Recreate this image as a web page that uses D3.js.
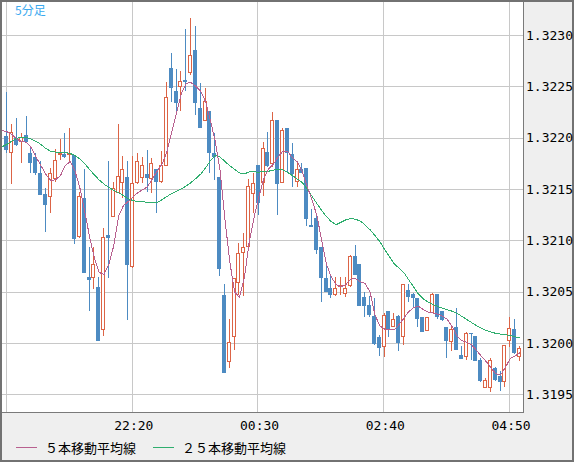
<!DOCTYPE html>
<html>
<head>
<meta charset="utf-8">
<script src="https://cdn.jsdelivr.net/npm/d3@7"></script>
<style>
	body { margin: 0; background: #ffffff; }
	svg { display: block; }
</style>
</head>
<body>
<svg id="chart" width="574" height="462"></svg>
<script>
// 5 minute bars, first bar at 20:10
var firstBar = "20:10";
var barMinutes = 5;

var openP = [1.322016,1.321851,1.321997,1.321958,1.322026,1.321851,1.321812,1.321656,1.321451,1.321422,
	1.321598,1.321831,1.321841,1.321831,1.321831,1.321033,1.321413,1.320643,1.320633,1.320546,
	1.320127,1.321052,1.321227,1.321461,1.321559,1.321617,1.320740,1.321559,1.321607,1.321646,
	1.321598,1.321695,1.321568,1.321724,1.322679,1.322455,1.322494,1.322562,1.322630,1.322854,
	1.322289,1.322162,1.322260,1.321851,1.321617,1.320468,1.319815,1.320059,1.320585,1.320877,
	1.320935,1.321451,1.321734,1.321559,1.321860,1.321744,1.322172,1.321559,1.322094,1.321841,
	1.321568,1.321695,1.321705,1.321150,1.321218,1.320935,1.320633,1.320536,1.320468,1.320546,
	1.320477,1.320555,1.320848,1.320770,1.320448,1.320370,1.320263,1.320059,1.319961,1.320312,
	1.320156,1.320263,1.320059,1.320516,1.320477,1.320439,1.320253,1.320117,1.320292,1.320477,
	1.320312,1.320156,1.320010,1.320156,1.319883,1.319864,1.320098,1.320068,1.319835,1.319562,
	1.319562,1.319757,1.319679,1.319620,1.320020,1.320137,1.319864];
var highP = [1.322445,1.322133,1.322192,1.322046,1.322211,1.321900,1.321851,1.321773,1.321510,1.321705,
	1.321890,1.321987,1.322046,1.322094,1.321831,1.321471,1.321695,1.320935,1.320935,1.320643,
	1.321120,1.321773,1.321568,1.322133,1.321822,1.321773,1.321822,1.321851,1.321812,1.321880,
	1.321802,1.321695,1.321870,1.322542,1.322825,1.322669,1.322650,1.323059,1.323166,1.323088,
	1.322533,1.322484,1.322260,1.322046,1.321617,1.320575,1.320234,1.320633,1.320974,1.321072,
	1.321598,1.321656,1.321734,1.321958,1.322055,1.322250,1.322172,1.322094,1.322094,1.321948,
	1.321763,1.321753,1.321705,1.321305,1.321257,1.320935,1.320750,1.320653,1.320643,1.320643,
	1.320643,1.320857,1.320955,1.320770,1.320497,1.320458,1.320439,1.320078,1.320292,1.320312,
	1.320292,1.320273,1.320575,1.320575,1.320487,1.320439,1.320253,1.320253,1.320487,1.320477,
	1.320312,1.320156,1.320166,1.320341,1.319971,1.320107,1.320098,1.320068,1.319854,1.319659,
	1.319854,1.319766,1.319727,1.319981,1.320253,1.320234,1.319971];
var lowP = [1.321851,1.321549,1.321919,1.321753,1.321948,1.321656,1.321637,1.321442,1.321081,1.321266,
	1.321568,1.321783,1.321802,1.321763,1.320964,1.321023,1.320682,1.320312,1.320526,1.320020,
	1.320068,1.320633,1.321227,1.321461,1.321413,1.320224,1.320731,1.321549,1.321559,1.321471,
	1.321461,1.321266,1.321559,1.321724,1.322348,1.322240,1.322260,1.322455,1.322611,1.322221,
	1.322094,1.322162,1.321656,1.321588,1.320653,1.319708,1.319757,1.319932,1.320468,1.320458,
	1.320906,1.321266,1.321247,1.321432,1.321714,1.321714,1.321247,1.321559,1.321666,1.321520,
	1.321520,1.321656,1.321140,1.321130,1.320867,1.320400,1.320497,1.320439,1.320458,1.320468,
	1.320448,1.320546,1.320663,1.320361,1.320253,1.320253,1.319981,1.319874,1.319864,1.320059,
	1.320156,1.319922,1.319981,1.320400,1.320341,1.320156,1.320107,1.320117,1.320292,1.320234,
	1.320214,1.319854,1.319922,1.319932,1.319844,1.319835,1.319835,1.319825,1.319620,1.319562,
	1.319523,1.319630,1.319533,1.319572,1.319961,1.319893,1.319825];
var closeP = [1.321880,1.322055,1.321929,1.322007,1.321958,1.321753,1.321656,1.321442,1.321344,1.321656,
	1.321783,1.321851,1.321812,1.321851,1.321013,1.321432,1.320682,1.320614,1.320770,1.320020,
	1.321033,1.321023,1.321510,1.321627,1.321695,1.320760,1.321559,1.321773,1.321734,1.321607,
	1.321753,1.321568,1.321734,1.322396,1.322484,1.322338,1.322552,1.322542,1.322805,1.322338,
	1.322094,1.322357,1.321851,1.321812,1.320721,1.319708,1.320010,1.320633,1.320877,1.320935,
	1.321529,1.321559,1.321364,1.321900,1.321724,1.322172,1.321549,1.322075,1.321851,1.321646,
	1.321695,1.321656,1.321208,1.321130,1.320906,1.320633,1.320497,1.320468,1.320536,1.320565,
	1.320536,1.320848,1.320663,1.320361,1.320361,1.320273,1.319990,1.319952,1.320273,1.320137,
	1.320234,1.320000,1.320575,1.320448,1.320439,1.320234,1.320107,1.320253,1.320477,1.320253,
	1.320224,1.320020,1.320137,1.319932,1.319844,1.320098,1.320088,1.319825,1.319630,1.319640,
	1.319835,1.319640,1.319620,1.319981,1.320146,1.319903,1.319952];

// moving averages as drawn, starting one bar before the first visible bar (20:05)
var ma5 = [1.322069,1.322056,1.322029,1.321985,1.321961,1.321955,1.321899,1.321807,1.321725,1.321642,
	1.321582,1.321590,1.321632,1.321727,1.321769,1.321675,1.321512,1.321286,1.321037,1.320828,
	1.320687,1.320668,1.320768,1.320945,1.321234,1.321338,1.321378,1.321422,1.321466,1.321493,
	1.321522,1.321600,1.321675,1.321743,1.321861,1.322055,1.322245,1.322431,1.322529,1.322536,
	1.322501,1.322451,1.322349,1.322165,1.321964,1.321675,1.321201,1.320792,1.320494,1.320446,
	1.320631,1.320978,1.321218,1.321423,1.321596,1.321693,1.321740,1.321813,1.321870,1.321863,
	1.321804,1.321761,1.321669,1.321524,1.321396,1.321242,1.321002,1.320765,1.320640,1.320568,
	1.320549,1.320569,1.320622,1.320628,1.320596,1.320579,1.320495,1.320277,1.320166,1.320136,
	1.320127,1.320127,1.320180,1.320242,1.320306,1.320343,1.320359,1.320325,1.320301,1.320293,
	1.320280,1.320261,1.320229,1.320156,1.320067,1.320023,1.320007,1.319982,1.319929,1.319871,
	1.319820,1.319757,1.319700,1.319690,1.319764,1.319852,1.319874,1.319906];
var ma25 = [1.321914,1.321936,1.321968,1.321995,1.322004,1.322000,1.321985,1.321963,1.321932,1.321893,
	1.321867,1.321859,1.321855,1.321854,1.321847,1.321825,1.321792,1.321747,1.321690,1.321637,
	1.321588,1.321547,1.321514,1.321488,1.321464,1.321436,1.321405,1.321387,1.321378,1.321375,
	1.321370,1.321367,1.321369,1.321395,1.321427,1.321456,1.321477,1.321500,1.321531,1.321563,
	1.321603,1.321646,1.321707,1.321776,1.321828,1.321812,1.321767,1.321727,1.321692,1.321656,
	1.321646,1.321666,1.321666,1.321664,1.321669,1.321673,1.321683,1.321691,1.321685,1.321659,
	1.321629,1.321596,1.321563,1.321498,1.321429,1.321358,1.321292,1.321230,1.321181,1.321152,
	1.321176,1.321200,1.321213,1.321205,1.321188,1.321148,1.321103,1.321048,1.320988,1.320912,
	1.320842,1.320771,1.320728,1.320686,1.320614,1.320548,1.320476,1.320429,1.320399,1.320375,
	1.320356,1.320339,1.320324,1.320309,1.320289,1.320259,1.320229,1.320199,1.320170,1.320144,
	1.320123,1.320106,1.320094,1.320086,1.320080,1.320071,1.320060,1.320049];

var yTicks = [1.3195, 1.3200, 1.3205, 1.3210, 1.3215, 1.3220, 1.3225, 1.3230];
var gridTimes = ["20:10", "22:20", "00:30", "02:40", "04:50"];
var timeLabels = ["22:20", "00:30", "02:40", "04:50"];
var legendNames = ["５本移動平均線", "２５本移動平均線"];
var legendColors = ["#b8608f", "#2fae6e"];
var periodName = "5分足";

var upColor = "#dc6446", downColor = "#4d8bc2";

// turn "HH:MM" into a date, hours before 20 fall on the next day
function toDate(s) {
	var h = +s.slice(0, 2), m = +s.slice(3, 5);
	return new Date(2014, 0, h < 20 ? 2 : 1, h, m);
}
function barDate(i) {
	return d3.timeMinute.offset(toDate(firstBar), i * barMinutes);
}

var bars = closeP.map(function(c, i) {
	return { t: barDate(i), o: openP[i], h: highP[i], l: lowP[i], c: c };
});

var plot = { left: 2, top: 2, right: 523, bottom: 412 };

var x = d3.scaleTime()
	.domain([barDate(0), barDate(bars.length - 1)])
	.range([7.3, 520]);
var y = d3.scaleLinear()
	.domain([1.319328, 1.323321])
	.range([plot.bottom, plot.top]);

var svg = d3.select("#chart");

// panels
svg.append("rect").attr("width", 574).attr("height", 462).attr("fill", "#efefef");
svg.append("rect")
	.attr("x", 0).attr("y", 0)
	.attr("width", plot.right).attr("height", plot.bottom)
	.attr("fill", "#ffffff");

svg.append("defs").append("clipPath").attr("id", "plotclip")
	.append("rect")
	.attr("x", plot.left).attr("y", plot.top)
	.attr("width", plot.right - plot.left).attr("height", plot.bottom - plot.top);

var g = svg.append("g").attr("clip-path", "url(#plotclip)");

// grid
g.selectAll(".hgrid")
	.data(yTicks)
	.enter().append("line")
	.attr("x1", plot.left).attr("x2", plot.right)
	.attr("y1", function(d) { return Math.round(y(d)) + 0.5; })
	.attr("y2", function(d) { return Math.round(y(d)) + 0.5; })
	.attr("stroke", "#c8c8c8").attr("stroke-width", 1);

g.selectAll(".vgrid")
	.data(gridTimes)
	.enter().append("line")
	.attr("x1", function(d) { return Math.floor(x(toDate(d))) - 0.5; })
	.attr("x2", function(d) { return Math.floor(x(toDate(d))) - 0.5; })
	.attr("y1", plot.top).attr("y2", plot.bottom)
	.attr("stroke", "#c8c8c8").attr("stroke-width", 1);

// candles
var candle = g.selectAll(".candle")
	.data(bars)
	.enter().append("g")
	.attr("class", "candle")
	.attr("shape-rendering", "crispEdges");

candle.each(function(d) {
	var el = d3.select(this);
	var cx = Math.round(x(d.t)) - 1;
	var up = d.c >= d.o;
	var top = Math.round(y(Math.max(d.o, d.c)));
	var bot = Math.round(y(Math.min(d.o, d.c)));
	if (bot - top < 1) bot = top + 1;
	var hi = Math.round(y(d.h)), lo = Math.round(y(d.l));
	if (up) {
		el.append("line")
			.attr("x1", cx + 0.5).attr("x2", cx + 0.5)
			.attr("y1", hi).attr("y2", top)
			.attr("stroke", upColor);
		el.append("line")
			.attr("x1", cx + 0.5).attr("x2", cx + 0.5)
			.attr("y1", bot).attr("y2", lo)
			.attr("stroke", upColor);
		el.append("rect")
			.attr("x", cx - 1.5).attr("y", top + 0.5)
			.attr("width", 3).attr("height", Math.max(bot - top - 1, 0.5))
			.attr("fill", "#ffffff")
			.attr("stroke", upColor).attr("stroke-width", 1);
	} else {
		el.append("line")
			.attr("x1", cx + 0.5).attr("x2", cx + 0.5)
			.attr("y1", hi).attr("y2", lo)
			.attr("stroke", downColor);
		el.append("rect")
			.attr("x", cx - 2).attr("y", top)
			.attr("width", 4).attr("height", bot - top)
			.attr("fill", downColor);
	}
});

// moving averages, index 0 is the bar before the first visible one
var maLine = d3.line()
	.x(function(d, i) { return x(barDate(i - 1)); })
	.y(function(d) { return y(d); });

[ma25, ma5].forEach(function(series, k) {
	g.append("path")
		.datum(series)
		.attr("d", maLine)
		.attr("fill", "none")
		.attr("stroke", k == 0 ? legendColors[1] : legendColors[0])
		.attr("stroke-width", 1)
		.attr("shape-rendering", "crispEdges");
});

// frame
svg.append("line")
	.attr("x1", plot.right + 0.5).attr("x2", plot.right + 0.5)
	.attr("y1", 0).attr("y2", plot.bottom + 1)
	.attr("stroke", "#7a7a7a");
svg.append("line")
	.attr("x1", 0).attr("x2", plot.right + 1)
	.attr("y1", plot.bottom + 0.5).attr("y2", plot.bottom + 0.5)
	.attr("stroke", "#7a7a7a");
svg.append("rect")
	.attr("x", 1).attr("y", 1).attr("width", 572).attr("height", 460)
	.attr("fill", "none").attr("stroke", "#727272").attr("stroke-width", 2);

// price labels
svg.selectAll(".ylab")
	.data(yTicks)
	.enter().append("text")
	.attr("x", 526)
	.attr("y", function(d) { return y(d) + 4.6; })
	.attr("font-family", "DejaVu Sans Mono")
	.attr("font-size", 13)
	.attr("fill", "#000")
	.text(d3.format(".4f"));

// time labels
svg.selectAll(".xlab")
	.data(timeLabels)
	.enter().append("text")
	.attr("x", function(d) { return x(toDate(d)) + 0.8; })
	.attr("y", 429.5)
	.attr("text-anchor", "middle")
	.attr("font-family", "DejaVu Sans Mono")
	.attr("font-size", 13)
	.attr("fill", "#000")
	.text(function(d) { return d; });

// legend
var legendX = [16, 153];
legendNames.forEach(function(name, k) {
	svg.append("line")
		.attr("x1", legendX[k]).attr("x2", legendX[k] + 21)
		.attr("y1", 447.5).attr("y2", 447.5)
		.attr("stroke", legendColors[k]).attr("stroke-width", 1);
	svg.append("text")
		.attr("x", legendX[k] + 29)
		.attr("y", 452.5)
		.attr("font-family", "Noto Sans CJK JP")
		.attr("font-size", 13)
		.attr("fill", "#000")
		.text(name);
});

svg.append("text")
	.attr("x", 15).attr("y", 15)
	.attr("font-family", "Noto Sans CJK JP")
	.attr("font-size", 12)
	.attr("fill", "#3aa9ef")
	.text(periodName);
</script>
</body>
</html>
